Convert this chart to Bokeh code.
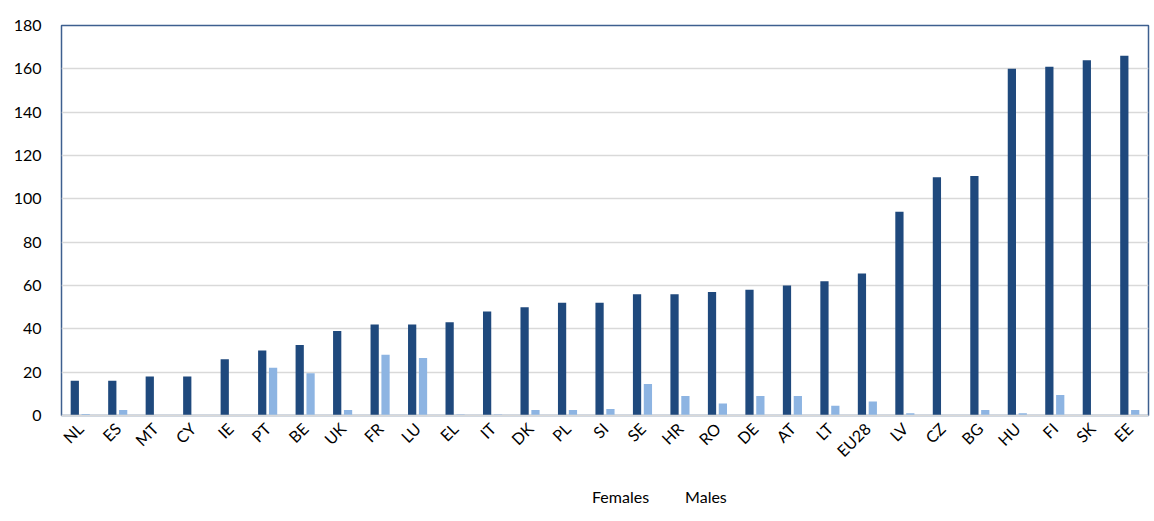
from bokeh.plotting import figure
from bokeh.layouts import column
from bokeh.models import ColumnDataSource, Legend, LegendItem, FixedTicker
from bokeh.transform import dodge
from bokeh.embed import file_html
from bokeh.resources import INLINE

# Countries ordered by the female value
countries = ["NL", "ES", "MT", "CY", "IE", "PT", "BE", "UK", "FR", "LU",
             "EL", "IT", "DK", "PL", "SI", "SE", "HR", "RO", "DE", "AT",
             "LT", "EU28", "LV", "CZ", "BG", "HU", "FI", "SK", "EE"]
females = [16, 16, 18, 18, 26, 30, 32.5, 39, 42, 42,
           43, 48, 50, 52, 52, 56, 56, 57, 58, 60,
           62, 65.5, 94, 110, 110.5, 160, 161, 164, 166]
males = [0.7, 2.5, 0, 0, 0, 22, 19.5, 2.5, 28, 26.5,
         0.5, 0.5, 2.5, 2.5, 3, 14.5, 9, 5.5, 9, 9,
         4.5, 6.5, 1, 0, 2.5, 1, 9.5, 0, 2.5]
y_ticks = [0, 20, 40, 60, 80, 100, 120, 140, 160, 180]

FEMALE_COLOR = "#1F497D"
MALE_COLOR = "#8DB4E2"
FONT = "Lato"

src = ColumnDataSource(dict(country=countries, females=females, males=males))

# main bar chart
p = figure(x_range=countries, y_range=(0, 180),
           width=1154, height=470,
           output_backend="svg", toolbar_location=None,
           min_border_left=61, min_border_right=6,
           min_border_top=25, min_border_bottom=55)

p.vbar(x=dodge("country", -0.145, range=p.x_range), top="females",
       width=0.22, source=src, fill_color=FEMALE_COLOR, line_color=None)
p.vbar(x=dodge("country", 0.145, range=p.x_range), top="males",
       width=0.22, source=src, fill_color=MALE_COLOR, line_color=None)

p.outline_line_color = "#3D5F8F"
p.outline_line_width = 1.5

p.xgrid.grid_line_color = None
p.ygrid.grid_line_color = "#D9D9D9"
p.ygrid.grid_line_width = 1.5
p.yaxis.ticker = FixedTicker(ticks=y_ticks)

p.yaxis.axis_line_color = None
p.yaxis.major_tick_line_color = None
p.yaxis.minor_tick_line_color = None
p.yaxis.major_label_text_font = FONT
p.yaxis.major_label_text_font_size = "16px"
p.yaxis.major_label_text_color = "#000000"
p.yaxis.major_label_standoff = 14

p.xaxis.axis_line_color = "#D9D9D9"
p.xaxis.axis_line_width = 1.5
p.xaxis.major_tick_line_color = None
p.xaxis.minor_tick_line_color = None
p.xaxis.major_tick_out = 0
p.xaxis.major_tick_in = 0
p.xaxis.major_label_orientation = 0.785
p.xaxis.major_label_text_font = FONT
p.xaxis.major_label_text_font_size = "16px"
p.xaxis.major_label_text_color = "#000000"
p.xaxis.major_label_standoff = 10

# legend strip underneath the chart
lg = figure(width=1154, height=51, x_range=(0, 1), y_range=(0, 1),
            output_backend="svg", toolbar_location=None,
            x_axis_location=None, y_axis_location=None,
            min_border=0)
lg.grid.visible = False
lg.outline_line_color = None
kf = lg.vbar(x=[], top=[], width=0.1, fill_color=FEMALE_COLOR, line_color=None)
km = lg.vbar(x=[], top=[], width=0.1, fill_color=MALE_COLOR, line_color=None)

legend = Legend(items=[LegendItem(label="Females", renderers=[kf]),
                       LegendItem(label="Males", renderers=[km])],
                orientation="horizontal", location=(517, 15),
                label_text_font=FONT, label_text_font_size="16px",
                label_text_color="#000000",
                glyph_width=10, glyph_height=10, spacing=22,
                label_standoff=4, border_line_color=None,
                background_fill_alpha=0, margin=0, padding=0)
lg.add_layout(legend, "center")

open("out.html", "w").write(file_html(column(p, lg, spacing=0), INLINE))
